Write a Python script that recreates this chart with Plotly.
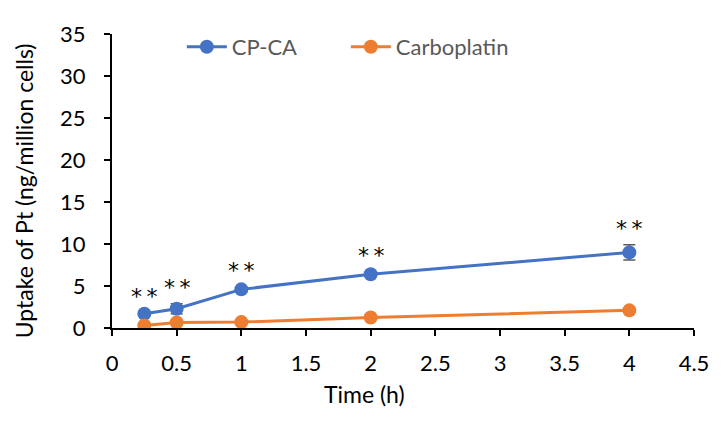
import plotly.graph_objects as go

time_h = [0.25, 0.5, 1, 2, 4]
cpca = [1.7, 2.3, 4.6, 6.4, 9.0]
cpca_err = [0.15, 0.6, 0.3, 0.3, 0.9]
carbo = [0.3, 0.65, 0.7, 1.25, 2.1]
carbo_err = [0.1, 0.1, 0.1, 0.1, 0.1]
sig_labels = ["*\u2009*", "*\u2009*", "*\u2009*", "*\u2009*", "*\u2009*"]
x_ticks = [0, 0.5, 1, 1.5, 2, 2.5, 3, 3.5, 4, 4.5]
x_tick_text = ["0", "0.5", "1", "1.5", "2", "2.5", "3", "3.5", "4", "4.5"]
y_ticks = [0, 5, 10, 15, 20, 25, 30, 35]

FONT = "Lato"
BLUE = "#4472C4"
ORANGE = "#ED7D31"

fig = go.Figure()
fig.add_trace(go.Scatter(
    x=time_h, y=cpca, name="CP-CA", mode="lines+markers",
    line=dict(color=BLUE, width=3),
    marker=dict(color=BLUE, size=14),
    error_y=dict(type="data", array=cpca_err, visible=True, color="#595959", thickness=1.5, width=6),
))
fig.add_trace(go.Scatter(
    x=time_h, y=carbo, name="Carboplatin", mode="lines+markers",
    line=dict(color=ORANGE, width=3),
    marker=dict(color=ORANGE, size=14),
    error_y=dict(type="data", array=carbo_err, visible=True, color="#595959", thickness=1.5, width=6),
))

for t, v, e, s in zip(time_h, cpca, cpca_err, sig_labels):
    fig.add_annotation(x=t, y=v + e, text=s, showarrow=False, yanchor="middle",
                       yshift=16, font=dict(family="DejaVu Sans", size=22, color="black"))

fig.add_annotation(xref="paper", yref="paper", x=0.434, y=-0.225, text="Time (h)",
                   xanchor="center", yanchor="middle",
                   showarrow=False, font=dict(family=FONT, size=23, color="black"))
fig.add_annotation(xref="paper", yref="paper", x=-0.152, y=0.467,
                   xanchor="center", yanchor="middle",
                   text="Uptake of Pt (ng/million cells)", textangle=-90,
                   showarrow=False, font=dict(family=FONT, size=23, color="black"))

fig.update_layout(
    width=713, height=414,
    margin=dict(l=104, r=20, t=18, b=94),
    paper_bgcolor="white", plot_bgcolor="white",
    font=dict(family=FONT, size=22, color="black"),
    showlegend=True,
    legend=dict(orientation="h", x=0.12, y=0.956, xanchor="left", yanchor="middle",
                font=dict(family=FONT, size=22, color="#595959"),
                itemwidth=40, entrywidth=109, bgcolor="rgba(0,0,0,0)"),
    xaxis=dict(range=[0, 4.5], tickvals=x_ticks, ticktext=x_tick_text,
               showline=True, linecolor="black", linewidth=2, showgrid=False, zeroline=False,
               ticks="outside", ticklen=6, tickwidth=1.5, tickcolor="black", ticklabelstandoff=9),
    yaxis=dict(range=[0, 35], tickvals=y_ticks,
               showline=True, linecolor="black", linewidth=2, showgrid=False, zeroline=False,
               ticks="outside", ticklen=6, tickwidth=1.5, tickcolor="black", ticklabelstandoff=14),
)

fig.write_html("out.html")
